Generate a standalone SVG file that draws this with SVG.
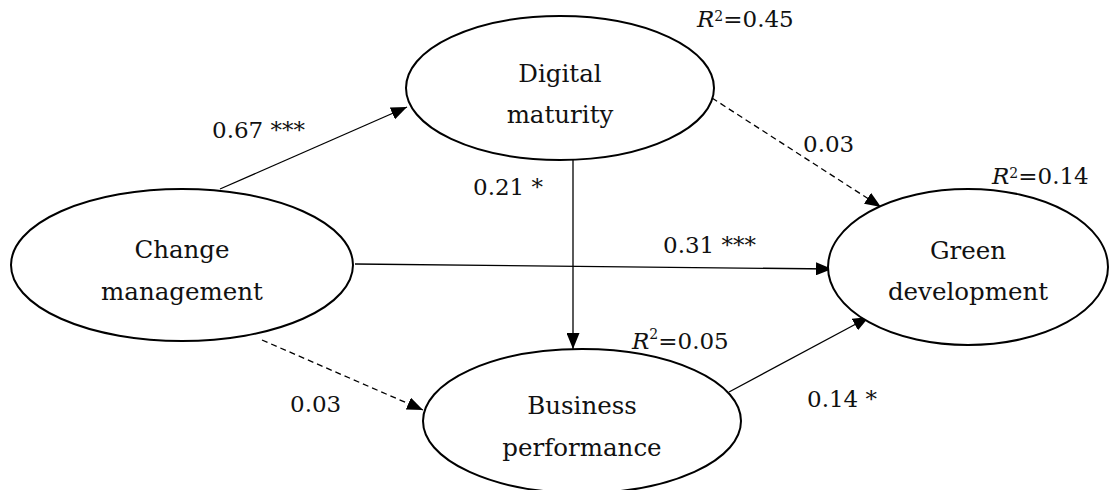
<svg xmlns="http://www.w3.org/2000/svg" width="1110" height="490" viewBox="0 0 1110 490">
<style>
.node ellipse{fill:#fff;stroke:#000;stroke-width:2}
.nt{font-family:'DejaVu Serif',serif;font-size:24.5px;fill:#111;text-anchor:middle}
.lb{font-family:'DejaVu Serif',serif;font-size:23px;fill:#111}
.c line{stroke:#000;stroke-width:1.3;fill:none}
.d{stroke-dasharray:6 4}
</style>
<defs>
<marker id="ah" viewBox="0 0 16 13" refX="16" refY="6.5" markerWidth="16" markerHeight="13" markerUnits="userSpaceOnUse" orient="auto">
<path d="M0,0 L16,6.5 L0,13 Z" fill="#000"/>
</marker>
</defs>
<rect width="1110" height="490" fill="#fff"/>
<g class="c" id="connectors">
<line x1="220" y1="189" x2="407" y2="107" marker-end="url(#ah)"/>
<line class="d" x1="712" y1="98" x2="881" y2="207" marker-end="url(#ah)"/>
<line x1="573" y1="160" x2="573" y2="349" marker-end="url(#ah)"/>
<line x1="355" y1="264" x2="832" y2="269" marker-end="url(#ah)"/>
<line class="d" x1="262" y1="340" x2="423" y2="410" marker-end="url(#ah)"/>
<line x1="729" y1="392" x2="869" y2="317" marker-end="url(#ah)"/>
</g>
<g class="node" id="digital">
<ellipse cx="560" cy="88" rx="154" ry="72"/>
<text class="nt" x="560" y="82">Digital</text>
<text class="nt" x="560" y="123">maturity</text>
</g>
<g class="node" id="change">
<ellipse cx="182" cy="265" rx="171" ry="76"/>
<text class="nt" x="182" y="258">Change</text>
<text class="nt" x="182" y="300">management</text>
</g>
<g class="node" id="green">
<ellipse cx="968" cy="267" rx="140" ry="78"/>
<text class="nt" x="968" y="259">Green</text>
<text class="nt" x="968" y="300">development</text>
</g>
<g class="node" id="business">
<ellipse cx="582" cy="421" rx="159" ry="72"/>
<text class="nt" x="582" y="414">Business</text>
<text class="nt" x="582" y="456">performance</text>
</g>
<g id="labels">
<text class="lb" x="212" y="138">0.67 ***</text>
<text class="lb" x="803" y="152">0.03</text>
<text class="lb" x="473" y="195">0.21 *</text>
<text class="lb" x="663" y="253">0.31 ***</text>
<text class="lb" x="290" y="412">0.03</text>
<text class="lb" x="807" y="407">0.14 *</text>
<text class="lb" x="697" y="27"><tspan font-style="italic">R</tspan><tspan font-size="14" dy="-6">2</tspan><tspan dy="6">=0.45</tspan></text>
<text class="lb" x="992" y="184"><tspan font-style="italic">R</tspan><tspan font-size="14" dy="-6">2</tspan><tspan dy="6">=0.14</tspan></text>
<text class="lb" x="632" y="349"><tspan font-style="italic">R</tspan><tspan font-size="14" dy="-10">2</tspan><tspan dy="10">=0.05</tspan></text>
</g>
</svg>
